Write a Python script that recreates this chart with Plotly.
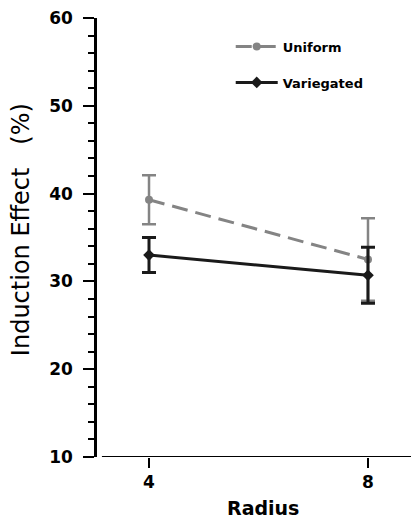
import plotly.graph_objects as go

radius = [4, 8]
uniform = [39.3, 32.5]
uniform_err = [2.8, 4.7]
variegated = [33.0, 30.7]
variegated_err = [2.0, 3.2]
y_ticks = [10, 20, 30, 40, 50, 60]
x_ticks = [4, 8]

FONT = "DejaVu Sans"

fig = go.Figure()
fig.add_trace(go.Scatter(
    x=radius, y=uniform, name="Uniform", mode="lines+markers",
    line=dict(color="#848484", width=3, dash="16px,8px"),
    marker=dict(symbol="circle", size=8, color="#848484"),
    error_y=dict(type="data", array=uniform_err, visible=True,
                 color="#848484", thickness=2.5, width=7),
    legendgroup="u",
))
fig.add_trace(go.Scatter(
    x=radius, y=variegated, name="Variegated", mode="lines+markers",
    line=dict(color="#1a1a1a", width=3),
    marker=dict(symbol="diamond", size=9, color="#1a1a1a"),
    error_y=dict(type="data", array=variegated_err, visible=True,
                 color="#1a1a1a", thickness=3, width=7),
    legendgroup="v",
))

fig.add_shape(type="line", xref="x", yref="y", x0=3.14, x1=8.95, y0=10, y1=10,
              line=dict(color="black", width=2))

fig.add_annotation(text="Induction Effect\u00a0\u00a0\u00a0(%)", textangle=-90,
                   xref="paper", yref="paper", x=-0.235, y=0.517,
                   xanchor="center", yanchor="middle", showarrow=False,
                   font=dict(family=FONT, size=24, color="black"))
fig.add_annotation(text="<b>Radius</b>",
                   xref="paper", yref="paper", x=0.514, y=-0.116,
                   xanchor="center", yanchor="middle", showarrow=False,
                   font=dict(family=FONT, size=19, color="black"))

fig.update_layout(
    width=419, height=518,
    margin=dict(l=89, r=7, t=10, b=69),
    plot_bgcolor="white", paper_bgcolor="white",
    font=dict(family=FONT, color="black"),
    showlegend=True,
    legend=dict(x=0.414, y=0.969, xanchor="left", yanchor="top",
                font=dict(family=FONT, size=13, color="black", weight="bold"),
                bgcolor="rgba(0,0,0,0)", tracegroupgap=16, itemwidth=42),
    xaxis=dict(range=[3.05, 8.95], tickvals=x_ticks, ticktext=[str(v) for v in x_ticks],
               showgrid=False, zeroline=False, showline=False, automargin=False,
               ticklabeloverflow="allow",
               ticks="outside", ticklen=10, tickwidth=2, tickcolor="black",
               tickfont=dict(family=FONT, size=17, weight="bold")),
    yaxis=dict(range=[10, 60], tickvals=y_ticks, showgrid=False, zeroline=False,
               showline=True, linecolor="black", linewidth=2.5, automargin=False,
               ticklabeloverflow="allow",
               ticks="outside", ticklen=11, tickwidth=2, tickcolor="black",
               ticklabelstandoff=7,
               tickfont=dict(family=FONT, size=17, weight="bold"),
               minor=dict(dtick=2, ticks="outside", ticklen=6, tickwidth=2, tickcolor="black")),
)

fig.write_html("out.html")
